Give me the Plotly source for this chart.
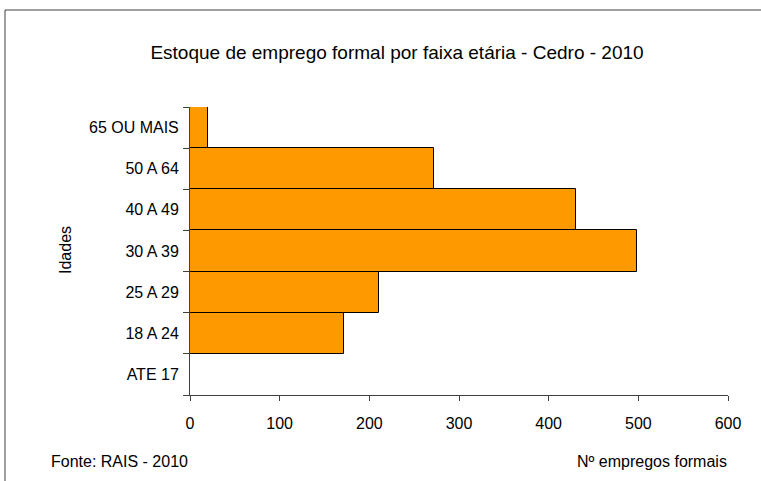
import plotly.graph_objects as go

categories = ["ATE 17", "18 A 24", "25 A 29", "30 A 39", "40 A 49", "50 A 64", "65 OU MAIS"]
values = [0, 172, 211, 498, 430, 272, 20]
x_ticks = [0, 100, 200, 300, 400, 500, 600]

title_text = "Estoque de emprego formal por faixa etária - Cedro - 2010"
y_title = "Idades"
x_title = "Nº empregos formais"
source_text = "Fonte: RAIS - 2010"

FONT = "Liberation Sans, Arial, sans-serif"

fig = go.Figure()
fig.add_trace(go.Bar(
    y=categories, x=values, orientation="h",
    marker=dict(color="#FF9900", line=dict(color="#000000", width=1)),
    hoverinfo="x+y",
))

W, H = 761, 481
L, R, T, B = 190, 33, 107, 86
pw, ph = W - L - R, H - T - B

def px2x(p):
    return (p - L) / pw

def py2y(p):
    return (H - B - p) / ph

fig.update_layout(
    width=W, height=H,
    margin=dict(l=L, r=R, t=T, b=B, pad=0),
    paper_bgcolor="white", plot_bgcolor="white",
    bargap=0,
    showlegend=False,
    font=dict(family=FONT, color="#000000"),
    title=dict(text=title_text, x=px2x(397), xref="paper", xanchor="center",
               y=1 - 52 / H, yref="container", yanchor="middle",
               font=dict(size=19, family=FONT, color="#000000")),
    xaxis=dict(range=[0, 600], tickvals=x_ticks, ticktext=[str(v) for v in x_ticks],
               ticks="outside", ticklen=5, tickcolor="#404040",
               showline=True, linecolor="#404040", linewidth=1,
               showgrid=False, zeroline=False, ticklabelstandoff=9,
               tickfont=dict(size=16, family=FONT, color="#000000")),
    yaxis=dict(type="category", categoryorder="array", categoryarray=categories,
               tickson="boundaries", ticks="outside", ticklen=6, tickcolor="#404040",
               showline=True, linecolor="#404040", linewidth=1,
               showgrid=False, zeroline=False, ticklabelstandoff=7,
               tickfont=dict(size=16, family=FONT, color="#000000")),
    shapes=[dict(type="rect", xref="paper", yref="paper",
                 x0=px2x(5), x1=px2x(775), y0=py2y(495), y1=py2y(10),
                 line=dict(color="#404040", width=1), fillcolor="rgba(0,0,0,0)",
                 layer="below")],
    annotations=[
        dict(text=y_title, xref="paper", yref="paper", x=px2x(65), y=py2y(250),
             xanchor="center", yanchor="middle", textangle=-90, showarrow=False,
             font=dict(size=16, family=FONT, color="#000000")),
        dict(text=source_text, xref="paper", yref="paper", x=px2x(49), y=py2y(461),
             xanchor="left", yanchor="middle", showarrow=False,
             font=dict(size=16, family=FONT, color="#000000")),
        dict(text=x_title, xref="paper", yref="paper", x=px2x(729), y=py2y(461),
             xanchor="right", yanchor="middle", showarrow=False,
             font=dict(size=16, family=FONT, color="#000000")),
    ],
)

fig.write_html("out.html", config={"displayModeBar": False},
               post_script="document.body.style.margin='0';")
